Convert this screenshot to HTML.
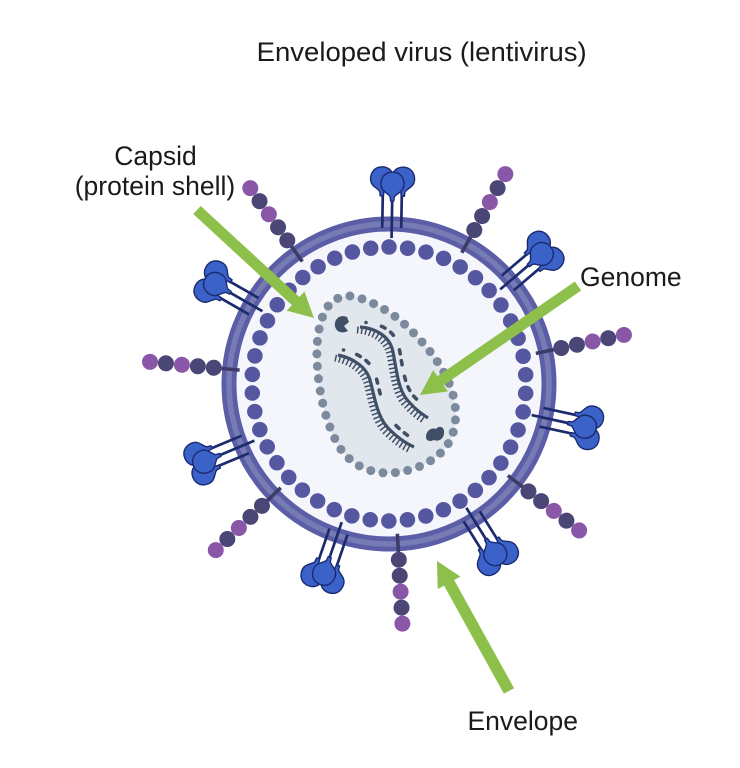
<!DOCTYPE html>
<html>
<head>
<meta charset="utf-8">
<style>
  html, body { margin: 0; padding: 0; background: #ffffff; }
  body { width: 740px; height: 768px; overflow: hidden; }
  svg { display: block; }
  .lbl { font-family: "Liberation Sans", Arial, sans-serif; font-size: 26.5px; fill: #1a1a1a; }
</style>
</head>
<body>
<svg width="740" height="768" viewBox="0 0 740 768" xmlns="http://www.w3.org/2000/svg">
  <defs>
    <path id="head" d="M0,-1.6 L4,-2 C8,-4 9,-11.5 17,-11.5 C24,-11.5 29,-7 29,0 C29,7 24,11.5 17,11.5 C9,11.5 8,4 4,2 L0,1.6 Z"
          fill="#3b62c8" stroke="#1b2a70" stroke-width="1.4" stroke-linejoin="round"/>
    <g id="spike">
      <line x1="156" y1="-9.5" x2="191" y2="-9.5" stroke="#1c2a6e" stroke-width="2.7"/>
      <line x1="156" y1="9.5" x2="191" y2="9.5" stroke="#1c2a6e" stroke-width="2.7"/>
      <line x1="146" y1="0" x2="186" y2="0" stroke="#1c2a6e" stroke-width="2.7"/>
      <use href="#head" transform="translate(188,-10.5)"/>
      <use href="#head" transform="translate(188,10.5)"/>
      <use href="#head" transform="translate(183,0)"/>
    </g>
    <g id="chain">
      <line x1="150" y1="0" x2="172" y2="0" stroke="#3d3b68" stroke-width="3.6"/>
      <circle cx="176" cy="0" r="8" fill="#4a4676"/>
      <circle cx="192" cy="0" r="8" fill="#4a4676"/>
      <circle cx="208" cy="0" r="8" fill="#8a57a8"/>
      <circle cx="224" cy="0" r="8" fill="#4a4676"/>
      <circle cx="240" cy="0" r="8" fill="#8a57a8"/>
    </g>
    <path id="s1" d="M360,327 C375,328 390,336 393,352 C397,372 398,392 410,403 C416,410 422,414 428,418"/>
    <path id="s2" d="M338,355 C352,358 366,366 370,380 C375,398 377,418 390,430 C398,438 405,443 414,447"/>
  </defs>

  <!-- Title and labels -->
  <text class="lbl" x="256.7" y="61" textLength="330" lengthAdjust="spacingAndGlyphs">Enveloped virus (lentivirus)</text>
  <text class="lbl" x="155.5" y="165" text-anchor="middle">Capsid</text>
  <text class="lbl" x="155" y="195" text-anchor="middle">(protein shell)</text>
  <text class="lbl" x="580" y="286">Genome</text>
  <text class="lbl" x="467.5" y="730">Envelope</text>

  <!-- Envelope membrane -->
  <circle cx="389" cy="384" r="160" fill="#f4f6fb" stroke="#5b5ea6" stroke-width="15"/>
  <circle cx="389" cy="384" r="160" fill="none" stroke="#777bb4" stroke-width="5.5"/>

  <!-- Capsid beads -->
  <circle cx="389" cy="384" r="137" fill="none" stroke="#5557a0" stroke-width="15.5"
          stroke-linecap="round" stroke-dasharray="0 18.713" transform="rotate(-90 389 384)"/>

  <!-- Chains -->
  <g transform="translate(389,384)">
    <use href="#chain" transform="rotate(-125.3)"/>
    <use href="#chain" transform="rotate(-61)"/>
    <use href="#chain" transform="rotate(-11.8)"/>
    <use href="#chain" transform="rotate(37.6)"/>
    <use href="#chain" transform="rotate(86.8)"/>
    <use href="#chain" transform="rotate(136.2)"/>
    <use href="#chain" transform="rotate(185.3)"/>
  </g>

  <!-- Spikes -->
  <g transform="translate(389,384)">
    <use href="#spike" transform="rotate(-89)"/>
    <use href="#spike" transform="rotate(-40.4)"/>
    <use href="#spike" transform="rotate(12.3)"/>
    <use href="#spike" transform="rotate(58)"/>
    <use href="#spike" transform="rotate(108.9)"/>
    <use href="#spike" transform="rotate(157.2)"/>
    <use href="#spike" transform="rotate(-150.1)"/>
  </g>

  <!-- Core -->
  <path d="M350,296 C362,297 384,307 401,321 C419,337 439,359 449,383 C457,402 459,426 448,444 C436,463 409,473 388,473 C365,473 345,461 335,439 C323,414 318,385 317,360 C316,335 321,311 332,302 C338,297 344,296 350,296 Z"
        fill="#e2e6ed"/>
  <path d="M350,296 C362,297 384,307 401,321 C419,337 439,359 449,383 C457,402 459,426 448,444 C436,463 409,473 388,473 C365,473 345,461 335,439 C323,414 318,385 317,360 C316,335 321,311 332,302 C338,297 344,296 350,296 Z"
        fill="none" stroke="#7b8a9d" stroke-width="9" stroke-linecap="round" pathLength="40" stroke-dasharray="0 1"/>

  <!-- Genome strands -->
  <g fill="none" stroke="#3e4f66">
    <use href="#s1" transform="translate(-3,3)" stroke-width="7" stroke-dasharray="1.5 2.6"/>
    <use href="#s1" stroke-width="3.2"/>
    <use href="#s1" transform="translate(6,-4.5)" stroke-width="3.6" stroke-linecap="round" stroke-dasharray="0 16 4 7 4 16 4 7 4 12 4 7 4 7 4 40"/>
    <use href="#s2" transform="translate(-3,3)" stroke-width="7" stroke-dasharray="1.5 2.6"/>
    <use href="#s2" stroke-width="3.2"/>
    <use href="#s2" transform="translate(5.5,-5)" stroke-width="3.6" stroke-linecap="round" stroke-dasharray="0 14 4 7 4 18 4 7 4 36 4 7 4 40"/>
  </g>
  <!-- small blobs -->
  <path d="M347,317 C340,314 334,319 335,326 C336,332 342,334 348,331 L344,326 L349,322 Z" fill="#3e4f66"/>
  <path d="M426,437 C426,431 431,427 436,429 C439,425 445,427 444,433 C444,439 438,442 434,440 C430,442 426,441 426,437 Z" fill="#3e4f66"/>

  <!-- Green arrows -->
  <polygon fill="#8dc04a" points="193.27,214.04 291.90,305.08 286.81,310.59 314,318 304.45,291.49 299.36,297.00 200.73,205.96"/>
  <polygon fill="#8dc04a" points="574.88,281.47 437.46,376.27 433.20,370.10 420,395 447.96,391.50 443.70,385.33 581.12,290.53"/>
  <polygon fill="#8dc04a" points="514.07,688.19 454.18,580.06 460.48,576.57 437,561 437.74,589.17 444.04,585.68 503.93,693.81"/>
</svg>
</body>
</html>
